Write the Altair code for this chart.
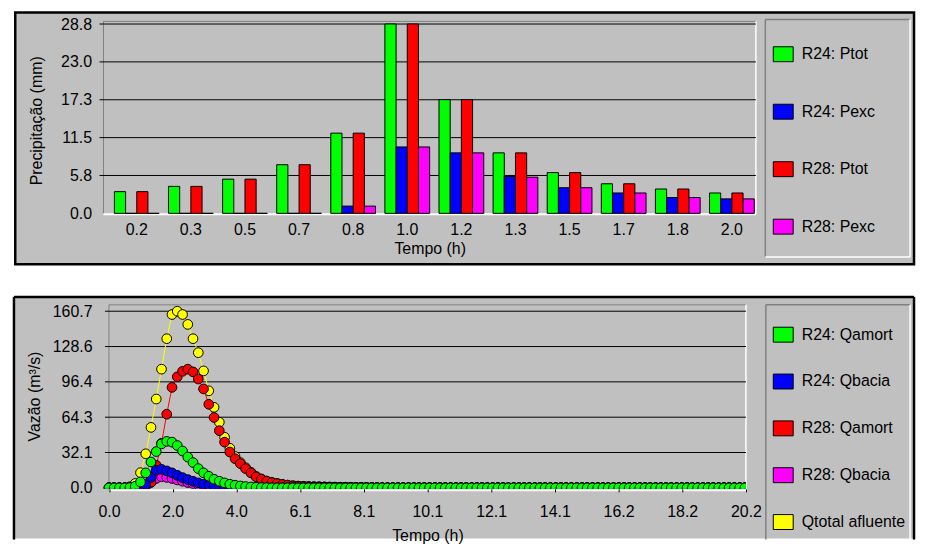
import altair as alt
import pandas as pd

FONT = "Liberation Sans"
CINZA = "#c0c0c0"
ESCURA = "#808080"

# ---------------- Painel superior: precipitação por intervalo ----------------
tempo_intervalos = ["0.2", "0.3", "0.5", "0.7", "0.8", "1.0", "1.2", "1.3", "1.5", "1.7", "1.8", "2.0"]
r24_ptot = [3.3, 4.1, 5.2, 7.4, 12.2, 28.8, 17.3, 9.2, 6.2, 4.5, 3.7, 3.1]
r24_pexc = [0.0, 0.0, 0.0, 0.0, 1.1, 10.1, 9.2, 5.6, 3.9, 3.1, 2.4, 2.2]
r28_ptot = [3.3, 4.1, 5.2, 7.4, 12.2, 28.8, 17.3, 9.2, 6.2, 4.5, 3.7, 3.1]
r28_pexc = [0.0, 0.0, 0.0, 0.0, 1.1, 10.1, 9.2, 5.5, 3.9, 3.1, 2.4, 2.2]
series_p = ["R24: Ptot", "R24: Pexc", "R28: Ptot", "R28: Pexc"]
cores_p = ["#00ff00", "#0000ff", "#ff0000", "#ff00ff"]
ticks_y_p = [0.0, 5.76, 11.52, 17.28, 23.04, 28.8]

# ---------------- Painel inferior: hidrogramas (passo de 10 min) ----------------
passo_h = 1 / 6
q_r24_amort = [
    0, 0, 0, 0, 0.3, 1.5, 5.4, 13.6, 23.5, 33.0,
    40.0, 42.3, 41.6, 38.5, 33.5, 28.0, 23.0, 17.5, 13.6, 10.5,
    7.8, 6.0, 4.5, 3.3, 2.4, 1.7, 1.2, 0.8, 0.5, 0.3,
    0.2, 0.1, 0, 0, 0, 0, 0, 0, 0, 0,
    0, 0, 0, 0, 0, 0, 0, 0, 0, 0,
    0, 0, 0, 0, 0, 0, 0, 0, 0, 0,
    0, 0, 0, 0, 0, 0, 0, 0, 0, 0,
    0, 0, 0, 0, 0, 0, 0, 0, 0, 0,
    0, 0, 0, 0, 0, 0, 0, 0, 0, 0,
    0, 0, 0, 0, 0, 0, 0, 0, 0, 0,
    0, 0, 0, 0, 0, 0, 0, 0, 0, 0,
    0, 0, 0, 0, 0, 0, 0, 0, 0, 0,
    0, 0,
]
q_r24_bacia = [
    0, 0, 0, 0, 0, 0, 0.5, 3.0, 9.5, 16.0,
    16.8, 15.4, 13.6, 11.4, 9.3, 7.5, 6.0, 4.5, 3.3, 2.4,
    1.5, 0.9, 0.5, 0.2, 0, 0, 0, 0, 0, 0,
    0, 0, 0, 0, 0, 0, 0, 0, 0, 0,
    0, 0, 0, 0, 0, 0, 0, 0, 0, 0,
    0, 0, 0, 0, 0, 0, 0, 0, 0, 0,
    0, 0, 0, 0, 0, 0, 0, 0, 0, 0,
    0, 0, 0, 0, 0, 0, 0, 0, 0, 0,
    0, 0, 0, 0, 0, 0, 0, 0, 0, 0,
    0, 0, 0, 0, 0, 0, 0, 0, 0, 0,
    0, 0, 0, 0, 0, 0, 0, 0, 0, 0,
    0, 0, 0, 0, 0, 0, 0, 0, 0, 0,
    0, 0,
]
q_r28_amort = [
    0, 0, 0, 0, 0, 0, 0.5, 1.5, 5.0, 20.5,
    40.5, 67.0, 91.4, 101.0, 106.0, 108.0, 105.5, 99.0, 90.0, 76.0,
    64.0, 52.0, 41.6, 32.6, 26.5, 22.0, 17.5, 13.6, 10.0, 7.8,
    6.0, 4.8, 3.9, 3.0, 2.4, 1.8, 1.5, 1.3, 1.1, 1.0,
    0.9, 0.8, 0.7, 0.6, 0.55, 0.5, 0.45, 0.4, 0.35, 0.3,
    0.2, 0.1, 0, 0, 0, 0, 0, 0, 0, 0,
    0, 0, 0, 0, 0, 0, 0, 0, 0, 0,
    0, 0, 0, 0, 0, 0, 0, 0, 0, 0,
    0, 0, 0, 0, 0, 0, 0, 0, 0, 0,
    0, 0, 0, 0, 0, 0, 0, 0, 0, 0,
    0, 0, 0, 0, 0, 0, 0, 0, 0, 0,
    0, 0, 0, 0, 0, 0, 0, 0, 0, 0,
    0, 0,
]
q_r28_bacia = [
    0, 0, 0, 0, 0, 0, 0, 1.5, 5.0, 8.5,
    10.0, 9.5, 8.5, 7.2, 6.0, 4.8, 3.8, 2.9, 2.1, 1.5,
    1.0, 0.6, 0.3, 0.1, 0, 0, 0, 0, 0, 0,
    0, 0, 0, 0, 0, 0, 0, 0, 0, 0,
    0, 0, 0, 0, 0, 0, 0, 0, 0, 0,
    0, 0, 0, 0, 0, 0, 0, 0, 0, 0,
    0, 0, 0, 0, 0, 0, 0, 0, 0, 0,
    0, 0, 0, 0, 0, 0, 0, 0, 0, 0,
    0, 0, 0, 0, 0, 0, 0, 0, 0, 0,
    0, 0, 0, 0, 0, 0, 0, 0, 0, 0,
    0, 0, 0, 0, 0, 0, 0, 0, 0, 0,
    0, 0, 0, 0, 0, 0, 0, 0, 0, 0,
    0, 0,
]
q_total = [
    0, 0, 0, 0, 1.0, 4.0, 13.8, 31.0, 55.0, 80.8,
    108.0, 135.7, 157.7, 160.7, 157.7, 148.7, 135.7, 123.0, 106.4, 88.3,
    73.3, 59.7, 46.0, 36.0, 28.5, 23.0, 18.3, 14.2, 10.4, 8.1,
    6.2, 5.0, 4.0, 3.1, 2.5, 1.9, 1.6, 1.4, 1.2, 1.05,
    0.95, 0.85, 0.75, 0.65, 0.6, 0.55, 0.5, 0.45, 0.4, 0.3,
    0.2, 0.1, 0, 0, 0, 0, 0, 0, 0, 0,
    0, 0, 0, 0, 0, 0, 0, 0, 0, 0,
    0, 0, 0, 0, 0, 0, 0, 0, 0, 0,
    0, 0, 0, 0, 0, 0, 0, 0, 0, 0,
    0, 0, 0, 0, 0, 0, 0, 0, 0, 0,
    0, 0, 0, 0, 0, 0, 0, 0, 0, 0,
    0, 0, 0, 0, 0, 0, 0, 0, 0, 0,
    0, 0,
]
series_q = ["R24: Qamort", "R24: Qbacia", "R28: Qamort", "R28: Qbacia", "Qtotal afluente"]
cores_q = ["#00ff00", "#0000ff", "#ff0000", "#ff00ff", "#ffff00"]
valores_q = {
    "R24: Qamort": q_r24_amort,
    "R24: Qbacia": q_r24_bacia,
    "R28: Qamort": q_r28_amort,
    "R28: Qbacia": q_r28_bacia,
    "Qtotal afluente": q_total,
}
ordem_desenho = ["Qtotal afluente", "R28: Qbacia", "R28: Qamort", "R24: Qbacia", "R24: Qamort"]
ticks_x_q = [0.0, 2.02, 4.04, 6.06, 8.08, 10.1, 12.12, 14.14, 16.16, 18.18, 20.2]
ticks_y_q = [0.0, 32.14, 64.28, 96.42, 128.56, 160.7]

# ---------------- tabelas ----------------
df_p = pd.DataFrame([
    {"tempo": t, "serie": s, "valor": v}
    for s, vals in zip(series_p, [r24_ptot, r24_pexc, r28_ptot, r28_pexc])
    for t, v in zip(tempo_intervalos, vals)
])
df_q = pd.DataFrame([
    {"tempo": i * passo_h, "serie": s, "vazao": v}
    for s in ordem_desenho
    for i, v in enumerate(valores_q[s])
])
um = pd.DataFrame({"k": [0]})


def quadro(x, x2, y, y2, **estilo):
    return alt.Chart(um).mark_rect(**estilo).encode(
        x=alt.value(x), x2=alt.value(x2), y=alt.value(y), y2=alt.value(y2))


def linha_h(y, x, x2, cor, esp):
    return alt.Chart(um).mark_rule(color=cor, strokeWidth=esp).encode(
        x=alt.value(x), x2=alt.value(x2), y=alt.value(y))


def linha_v(x, y, y2, cor, esp):
    return alt.Chart(um).mark_rule(color=cor, strokeWidth=esp).encode(
        x=alt.value(x), y=alt.value(y), y2=alt.value(y2))


txt = dict(labelFont=FONT, labelFontSize=16, labelColor="black",
           titleFont=FONT, titleFontSize=16, titleFontWeight="normal", titleColor="black",
           domain=False, grid=False, zindex=1, labelOverlap=False, labelBound=False)

leg = dict(title=None, orient="none", direction="vertical",
           symbolType="M-1,-0.75L1,-0.75L1,0.75L-1,0.75Z", symbolSize=400,
           symbolStrokeColor="black", symbolStrokeWidth=1, symbolOpacity=1,
           labelFont=FONT, labelFontSize=16, labelColor="black", labelOffset=8,
           labelLimit=400, padding=0)

# ---------------- painel superior ----------------
W1, H1 = 656, 193
esc_y1 = alt.Scale(domain=[0, 29.2], nice=False, zero=True)
eixo_y1 = alt.Axis(values=ticks_y_p, format=".1f", title="Precipitação (mm)", ticks=False,
                   tickSize=0, labelPadding=12, titleX=-67, titleY=99.5, titleAngle=270,
                   titleBaseline="middle", **txt)

grade_p = alt.Chart(pd.DataFrame({"valor": ticks_y_p[1:]})).mark_rule(color="black", strokeWidth=1).encode(
    y=alt.Y("valor:Q", scale=esc_y1, axis=eixo_y1), x=alt.value(-4), x2=alt.value(W1))

barras = alt.Chart(df_p).mark_bar(stroke="black", strokeWidth=1, opacity=1).encode(
    x=alt.X("tempo:N", sort=tempo_intervalos,
            scale=alt.Scale(domain=tempo_intervalos, paddingInner=0.173, paddingOuter=0.116, align=0.87),
            axis=alt.Axis(title="Tempo (h)", labelAngle=0, ticks=False, tickSize=0, labelPadding=8,
                          titleY=35, titleBaseline="middle", **txt)),
    xOffset=alt.XOffset("serie:N", scale=alt.Scale(domain=series_p)),
    y=alt.Y("valor:Q", scale=esc_y1, axis=eixo_y1),
    color=alt.Color("serie:N", scale=alt.Scale(domain=series_p, range=cores_p),
                    legend=alt.Legend(legendX=673, legendY=22.5, rowPadding=37.8, **leg)),
)

painel_p = alt.layer(
    quadro(-88.7, 815, -9, 244.3, fill=CINZA, stroke="black", strokeWidth=2.5),
    linha_v(665.5, -2, 237, ESCURA, 1.5),
    linha_h(-2, 665.5, 811, ESCURA, 1.5),
    linha_v(811, -2, 237, "white", 1.5),
    linha_h(237, 665.5, 811, "white", 1.5),
    linha_v(0, 0, H1, ESCURA, 1),
    linha_h(0, 0, W1, ESCURA, 1),
    linha_h(H1 + 1, 0, W1, "white", 2),
    linha_v(W1, 0, H1 + 1, "white", 1.5),
    grade_p,
    barras,
).properties(width=W1, height=H1)

# ---------------- painel inferior ----------------
W2, H2 = 646, 185
esc_x2 = alt.Scale(domain=[0, 20.2], range=[5.5, W2], nice=False, zero=False)
esc_y2 = alt.Scale(domain=[0, 166.5], range=[184, 0], nice=False, zero=True)
eixo_x2 = alt.Axis(values=ticks_x_q, format=".1f", title="Tempo (h)", ticks=True, tickSize=3,
                   tickColor="black", labelPadding=11.5, labelFlush=False,
                   titleY=46.5, titleBaseline="middle", **txt)
eixo_y2 = alt.Axis(values=ticks_y_q, format=".1f", title="Vazão (m³/s)", ticks=False,
                   tickSize=0, labelPadding=11.5, titleX=-69, titleY=91.7, titleAngle=270,
                   titleBaseline="middle", **txt)

grade_q = alt.Chart(pd.DataFrame({"vazao": ticks_y_q[1:]})).mark_rule(color="black", strokeWidth=1).encode(
    y=alt.Y("vazao:Q", scale=esc_y2, axis=eixo_y2), x=alt.value(1.5), x2=alt.value(W2))

linhas = alt.Chart(df_q).mark_line(strokeWidth=1, clip=True).encode(
    x=alt.X("tempo:Q", scale=esc_x2, axis=eixo_x2),
    y=alt.Y("vazao:Q", scale=esc_y2, axis=eixo_y2),
    stroke=alt.Stroke("serie:N", scale=alt.Scale(domain=series_q, range=cores_q), legend=None),
)

pontos = alt.Chart(df_q).mark_circle(size=95, stroke="black", strokeWidth=1, opacity=1, clip=True).encode(
    x=alt.X("tempo:Q", scale=esc_x2, axis=eixo_x2),
    y=alt.Y("vazao:Q", scale=esc_y2, axis=eixo_y2),
    color=alt.Color("serie:N", scale=alt.Scale(domain=series_q, range=cores_q),
                    legend=alt.Legend(legendX=673, legendY=19.5, rowPadding=27.1, **leg)),
)

painel_q = alt.layer(
    quadro(-90, 815, -8, 235, fill=CINZA),
    linha_v(-90, -8, 236, "black", 2.5),
    linha_h(-8, -90, 815, "black", 2.5),
    linha_v(815, -8, 236, "black", 2.5),
    linha_v(666, 0, 236, ESCURA, 1.5),
    linha_h(0, 666, 811, ESCURA, 1.5),
    linha_v(811, 0, 236, "white", 1.5),
    linha_v(5.5, 0, 186, ESCURA, 1),
    linha_h(0, 5.5, W2, ESCURA, 1),
    linha_h(186.5, 5.5, W2, "white", 2),
    linha_v(W2, 0, 187, "white", 1.5),
    grade_q,
    linhas,
    pontos,
).properties(width=W2, height=H2)

chart = alt.vconcat(painel_p, painel_q, spacing=92, bounds="flush").resolve_scale(
    color="independent"
).properties(
    padding={"left": 4, "top": 1, "right": 2, "bottom": 0}, background="white"
).configure(font=FONT).configure_view(stroke=None)

chart.save("out.html", embed_options={"renderer": "svg", "actions": False})
